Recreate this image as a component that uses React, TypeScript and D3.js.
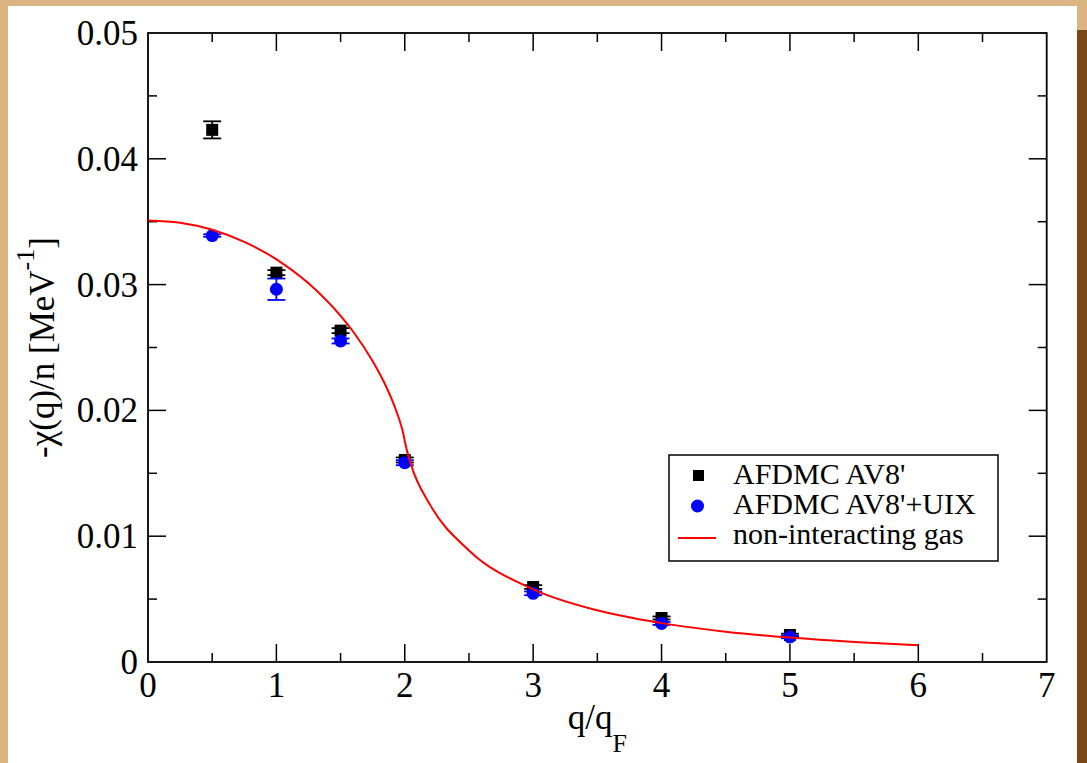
import React from 'react';
import * as d3 from 'd3';

// AFDMC data points (q/qF, -chi/n)
const qPoints = [0.5, 1, 1.5, 2, 3, 4, 5];
const av8 = [0.0423, 0.03095, 0.02634, 0.01606, 0.00596, 0.0035, 0.00215];
const av8Err = [0.00068, 0.0002, 0.0002, 0.0002, 0.00015, 0.00012, 0.0001];
const av8uix = [0.0339, 0.02963, 0.02552, 0.01584, 0.00546, 0.00307, 0.00199];
const av8uixErr = [0.0001, 0.00085, 0.0002, 0.0002, 0.00015, 0.00012, 0.0001];

// non-interacting gas curve
const gasQ = [0, 0.25, 0.5, 0.75, 1, 1.25, 1.5, 1.6, 1.75, 1.85, 1.9, 1.95, 1.99, 2, 2.05, 2.2, 2.5, 3, 3.5, 4, 4.5, 5, 5.5, 6];
const gasV = [0.0351, 0.03492, 0.03436, 0.0334, 0.03201, 0.0301, 0.02751, 0.02623, 0.02391, 0.0220, 0.02085, 0.01949, 0.01808, 0.01755, 0.01565, 0.01245, 0.00887, 0.00578, 0.00411, 0.00309, 0.00241, 0.00194, 0.00159, 0.00133];

const xTicks = [0, 1, 2, 3, 4, 5, 6, 7];
const yTicks = [0, 0.01, 0.02, 0.03, 0.04, 0.05];
const yTickLabels = ['0', '0.01', '0.02', '0.03', '0.04', '0.05'];

const legendLabels = ["AFDMC AV8'", "AFDMC AV8'+UIX", 'non-interacting gas'];

const W = 1087;
const H = 763;
const left = 148, right = 1046.7, top = 33, bottom = 662;
const font = '"Liberation Serif", "Times New Roman", serif';

export default function App() {
  const x = d3.scaleLinear().domain([0, 7]).range([left, right]);
  const y = d3.scaleLinear().domain([0, 0.05]).range([bottom, top]);

  const line = d3.line<number>()
    .x((d, i) => x(gasQ[i]))
    .y(d => y(d))
    .curve(d3.curveMonotoneX);

  const xMinor = d3.range(0, 14).map(i => i * 0.5 + 0.5).filter(v => v < 7 && v % 1 !== 0);
  const yMinor = d3.range(0, 5).map(i => i * 0.01 + 0.005);

  const errBar = (q: number, v: number, e: number, color: string, key: string) => (
    <g key={key} stroke={color} strokeWidth={1.8}>
      <line x1={x(q)} x2={x(q)} y1={y(v + e)} y2={y(v - e)} />
      <line x1={x(q) - 9} x2={x(q) + 9} y1={y(v + e)} y2={y(v + e)} />
      <line x1={x(q) - 9} x2={x(q) + 9} y1={y(v - e)} y2={y(v - e)} />
    </g>
  );

  const lx = 669, ly = 455, lw = 329, lh = 106;

  return (
    <svg width={W} height={H} style={{ position: 'absolute', left: 0, top: 0 }} fontFamily={font}>
      <rect x={0} y={0} width={W} height={H} fill="#dbb481" />
      <rect x={1077} y={30} width={10} height={H - 30} fill="#774716" />
      <rect x={8} y={6} width={1069} height={H - 6} fill="#ffffff" />

      {/* ticks */}
      <g stroke="#000" strokeWidth={1.5}>
        {xTicks.slice(1, -1).map(t => (
          <g key={'xt' + t}>
            <line x1={x(t)} x2={x(t)} y1={bottom} y2={bottom - 18} />
            <line x1={x(t)} x2={x(t)} y1={top} y2={top + 18} />
          </g>
        ))}
        {xMinor.map(t => (
          <g key={'xm' + t}>
            <line x1={x(t)} x2={x(t)} y1={bottom} y2={bottom - 9} />
            <line x1={x(t)} x2={x(t)} y1={top} y2={top + 9} />
          </g>
        ))}
        {yTicks.slice(1, -1).map(t => (
          <g key={'yt' + t}>
            <line x1={left} x2={left + 18} y1={y(t)} y2={y(t)} />
            <line x1={right} x2={right - 18} y1={y(t)} y2={y(t)} />
          </g>
        ))}
        {yMinor.map(t => (
          <g key={'ym' + t}>
            <line x1={left} x2={left + 9} y1={y(t)} y2={y(t)} />
            <line x1={right} x2={right - 9} y1={y(t)} y2={y(t)} />
          </g>
        ))}
      </g>
      <rect x={left} y={top} width={right - left} height={bottom - top} fill="none" stroke="#000" strokeWidth={1.8} />

      {/* tick labels */}
      <g fontSize={35} fill="#000">
        {xTicks.map(t => (
          <text key={'xl' + t} x={x(t)} y={bottom + 35} textAnchor="middle">{t}</text>
        ))}
        {yTicks.map((t, i) => (
          <text key={'yl' + t} x={left - 10} y={y(t) + 12} textAnchor="end">{yTickLabels[i]}</text>
        ))}
      </g>

      {/* axis titles */}
      <text x={(left + right) / 2} y={729} textAnchor="middle" fontSize={35}>
        q/q<tspan fontSize={26} dy={23}>F</tspan>
      </text>
      <text transform={`translate(54,${(top + bottom) / 2}) rotate(-90)`} textAnchor="middle" fontSize={35}>
        -χ(q)/n [MeV<tspan fontSize={26} dy={-20}>-1</tspan><tspan dy={20}>]</tspan>
      </text>

      {/* AV8' squares */}
      {qPoints.map((q, i) => errBar(q, av8[i], av8Err[i], '#000', 'be' + i))}
      {qPoints.map((q, i) => (
        <rect key={'bs' + i} x={x(q) - 6} y={y(av8[i]) - 6} width={12} height={12} fill="#000" />
      ))}

      {/* AV8'+UIX circles */}
      {qPoints.map((q, i) => errBar(q, av8uix[i], av8uixErr[i], '#0000ff', 'ue' + i))}
      {qPoints.map((q, i) => (
        <circle key={'uc' + i} cx={x(q)} cy={y(av8uix[i])} r={6.5} fill="#0000ff" />
      ))}

      <path d={line(gasV) || ''} fill="none" stroke="#ff0000" strokeWidth={2} />

      {/* legend */}
      <rect x={lx} y={ly} width={lw} height={lh} fill="#fff" stroke="#000" strokeWidth={1.5} />
      <rect x={693} y={470} width={11} height={11} fill="#000" />
      <circle cx={697.5} cy={506} r={6.5} fill="#0000ff" />
      <line x1={678} x2={716} y1={538} y2={538} stroke="#ff0000" strokeWidth={2} />
      <g fontSize={30} fill="#000">
        {legendLabels.map((l, i) => (
          <text key={'lg' + i} x={733} y={484 + i * 30}>{l}</text>
        ))}
      </g>
    </svg>
  );
}
